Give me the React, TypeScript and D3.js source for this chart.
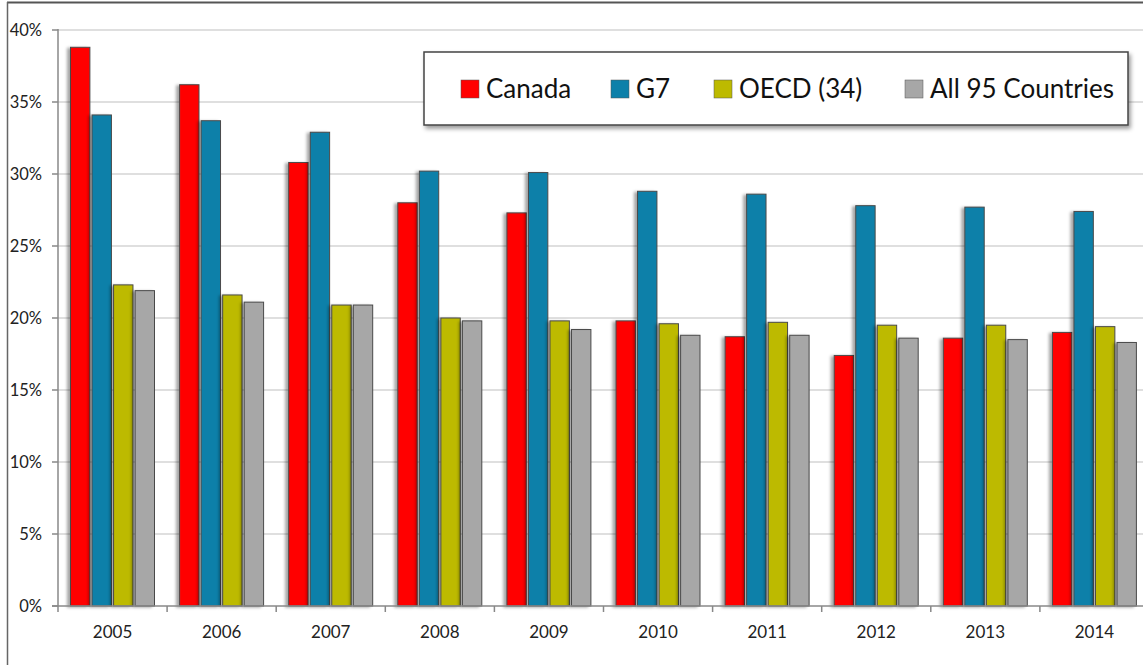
import React from "react";
import * as d3 from "d3";

const years = ["2005", "2006", "2007", "2008", "2009", "2010", "2011", "2012", "2013", "2014"];
const seriesNames = ["Canada", "G7", "OECD (34)", "All 95 Countries"];
const canada = [38.8, 36.2, 30.8, 28.0, 27.3, 19.8, 18.7, 17.4, 18.6, 19.0];
const g7 = [34.1, 33.7, 32.9, 30.2, 30.1, 28.8, 28.6, 27.8, 27.7, 27.4];
const oecd = [22.3, 21.6, 20.9, 20.0, 19.8, 19.6, 19.7, 19.5, 19.5, 19.4];
const all95 = [21.9, 21.1, 20.9, 19.8, 19.2, 18.8, 18.8, 18.6, 18.5, 18.3];
const yTicks = [0, 5, 10, 15, 20, 25, 30, 35, 40];
const colors = ["#FF0000", "#0E80A9", "#BDBA00", "#A7A7A7"];

const seriesValues = [canada, g7, oecd, all95];

export default function App() {
  const W = 1143, H = 665;
  const x0 = 58, yBase = 606, yTop = 30;
  const x = d3.scaleBand<string>().domain(years).range([x0, x0 + 109.1 * 10]).padding(0);
  const xs = d3.scaleBand<string>().domain(seriesNames).range([12.5, 96.5]).paddingInner(0.1).paddingOuter(0);
  const y = d3.scaleLinear().domain([0, 40]).range([yBase, yTop]);
  const font = "Lato, 'Liberation Sans', sans-serif";

  return (
    <svg width={W} height={H} style={{ position: "absolute", left: 0, top: 0, background: "#fff" }}>
      <defs>
        <filter id="sh" x="-50%" y="-10%" width="200%" height="120%">
          <feDropShadow dx={-3} dy={1} stdDeviation={1.5} floodColor="#000" floodOpacity={0.35} />
        </filter>
        <filter id="lsh" x="-5%" y="-20%" width="110%" height="150%">
          <feDropShadow dx={2} dy={3} stdDeviation={2} floodColor="#000" floodOpacity={0.4} />
        </filter>
      </defs>
      <rect x={0} y={0} width={W} height={H} fill="#fff" />
      {/* frame */}
      <line x1={7} x2={W} y1={2.5} y2={2.5} stroke="#555" strokeWidth={2} />
      <line x1={7.5} x2={7.5} y1={2} y2={H} stroke="#666" strokeWidth={1.5} />

      {/* gridlines */}
      {yTicks.filter((t) => t > 0).map((t) => (
        <line key={"g" + t} x1={x0} x2={W} y1={y(t)} y2={y(t)} stroke="#D4D4D4" strokeWidth={1.5} />
      ))}

      {/* bars */}
      {years.map((yr, i) => (
        <g key={yr} transform={`translate(${x(yr)},0)`}>
          {seriesNames.map((s, j) => {
            const v = seriesValues[j][i];
            return (
              <rect
                key={s}
                x={xs(s)}
                y={y(v)}
                width={xs.bandwidth()}
                height={yBase - y(v)}
                fill={colors[j]}
                stroke="#4a4a4a"
                strokeWidth={1}
                filter="url(#sh)"
              />
            );
          })}
        </g>
      ))}

      {/* axes */}
      <line x1={x0} x2={x0} y1={yTop - 1} y2={yBase} stroke="#888" strokeWidth={1.5} />
      <line x1={x0 - 6} x2={W} y1={yBase} y2={yBase} stroke="#888" strokeWidth={1.5} />
      {yTicks.map((t) => (
        <g key={"yt" + t}>
          <line x1={x0 - 6} x2={x0} y1={y(t)} y2={y(t)} stroke="#888" strokeWidth={1.5} />
          <text x={42} y={y(t)} dy="0.35em" textAnchor="end" fontFamily={font} fontSize={16.5} fill="#222">
            {t}%
          </text>
        </g>
      ))}
      {years.map((yr) => (
        <g key={"xt" + yr}>
          <line x1={x(yr)!} x2={x(yr)!} y1={yBase} y2={yBase + 6} stroke="#888" strokeWidth={1.5} />
          <text x={x(yr)! + x.bandwidth() / 2} y={638} textAnchor="middle" fontFamily={font} fontSize={17} fill="#222">
            {yr}
          </text>
        </g>
      ))}

      {/* legend */}
      <rect x={424} y={52} width={704} height={73} fill="#fff" stroke="#444" strokeWidth={1.5} filter="url(#lsh)" />
      {(() => {
        const itemX = [461, 611, 714, 905];
        return seriesNames.map((s, j) => (
          <g key={"l" + s}>
            <rect x={itemX[j]} y={80} width={18} height={18} fill={colors[j]} stroke="#555" strokeWidth={0.5} />
            <text x={itemX[j] + 25} y={89} dy="0.36em" fontFamily={font} fontSize={26} fill="#111">
              {s}
            </text>
          </g>
        ));
      })()}
    </svg>
  );
}
